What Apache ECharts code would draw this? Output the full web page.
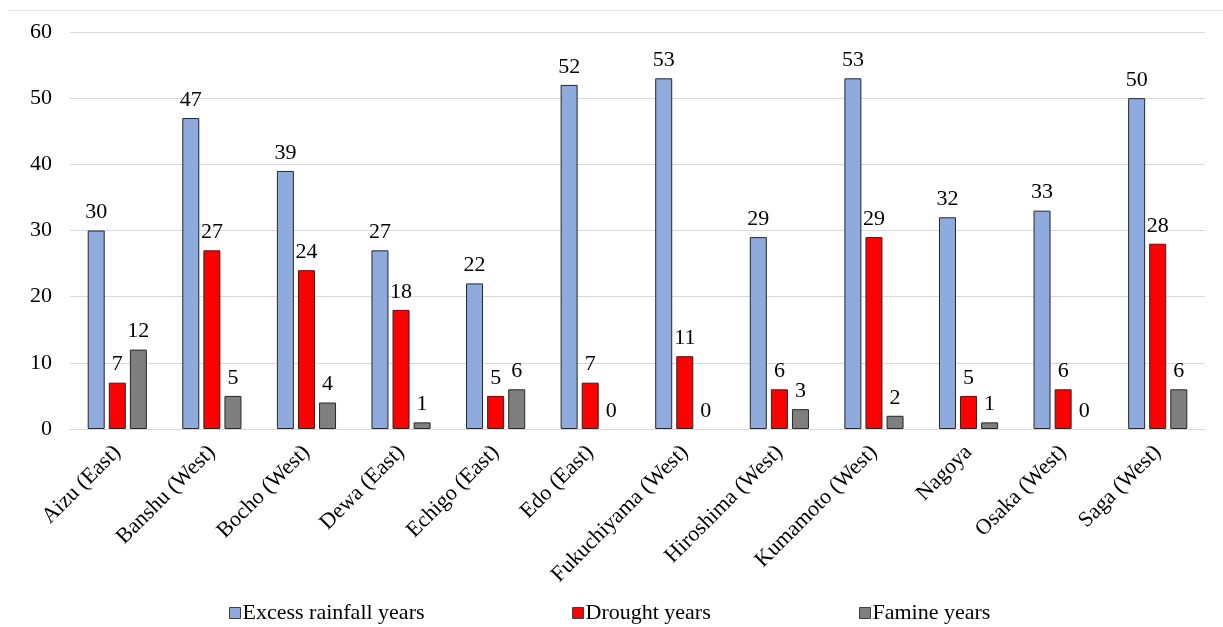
<!DOCTYPE html>
<html>
<head>
<meta charset="utf-8">
<script src="https://cdn.jsdelivr.net/npm/echarts@6/dist/echarts.min.js"></script>
<style>
  html, body { margin: 0; padding: 0; background: #fff; }
  #chart { width: 1223px; height: 627px; }
</style>
</head>
<body>
<div id="chart"></div>
<script>
// Domains (regions) and yearly counts per category
const domains = ['Aizu (East)', 'Banshu (West)', 'Bocho (West)', 'Dewa (East)', 'Echigo (East)', 'Edo (East)',
  'Fukuchiyama (West)', 'Hiroshima (West)', 'Kumamoto (West)', 'Nagoya', 'Osaka (West)', 'Saga (West)'];
const excessRainfallYears = [30, 47, 39, 27, 22, 52, 53, 29, 53, 32, 33, 50];
const droughtYears = [7, 27, 24, 18, 5, 7, 11, 6, 29, 5, 6, 28];
const famineYears = [12, 5, 4, 1, 6, 0, 0, 3, 2, 1, 0, 6];
const yTicks = { min: 0, max: 60, interval: 10 };

const FONT = '"Liberation Serif", "Times New Roman", serif';
const chart = echarts.init(document.getElementById('chart'), null, { renderer: 'canvas' });

function barSeries(name, values, color) {
  return {
    name: name,
    type: 'bar',
    barWidth: 17,
    barGap: '24%',
    // zero-height bars get no outline; the label still shows "0"
    data: values.map(v => v === 0 ? { value: v, itemStyle: { borderWidth: 0 } } : v),
    itemStyle: { color: color, borderColor: '#262626', borderWidth: 1 },
    label: {
      show: true, position: 'top', distance: 7,
      fontFamily: FONT, fontSize: 22, color: '#000'
    }
  };
}

function legendAt(left, name) {
  return {
    left: left, top: 597,
    data: [name],
    icon: 'rect', itemWidth: 11, itemHeight: 11,
    itemStyle: { borderColor: '#404040', borderWidth: 1 },
    textStyle: { fontFamily: FONT, fontSize: 22, color: '#000', padding: [0, 0, 0, -3] }
  };
}

chart.setOption({
  backgroundColor: '#fff',
  animation: false,
  grid: { left: 70, right: 18, top: 32, bottom: 198 },
  legend: [
    legendAt(224, 'Excess rainfall years'),
    legendAt(567, 'Drought years'),
    legendAt(854, 'Famine years')
  ],
  xAxis: {
    type: 'category',
    data: domains,
    axisLine: { lineStyle: { color: '#d9d9d9' } },
    axisTick: { show: false },
    axisLabel: {
      rotate: 45, interval: 0, margin: 20,
      fontFamily: FONT, fontSize: 22, color: '#000'
    }
  },
  yAxis: {
    type: 'value',
    min: yTicks.min, max: yTicks.max, interval: yTicks.interval,
    axisLine: { show: false },
    axisTick: { show: false },
    splitLine: { lineStyle: { color: '#d9d9d9' } },
    axisLabel: { margin: 18, fontFamily: FONT, fontSize: 22, color: '#000' }
  },
  graphic: [{
    type: 'line',
    shape: { x1: 8, y1: 10.5, x2: 1223, y2: 10.5 },
    style: { stroke: '#e0e0e0', lineWidth: 1 }
  }],
  series: [
    barSeries('Excess rainfall years', excessRainfallYears, '#8faadc'),
    barSeries('Drought years', droughtYears, '#ff0000'),
    barSeries('Famine years', famineYears, '#7f7f7f')
  ]
});
</script>
</body>
</html>
